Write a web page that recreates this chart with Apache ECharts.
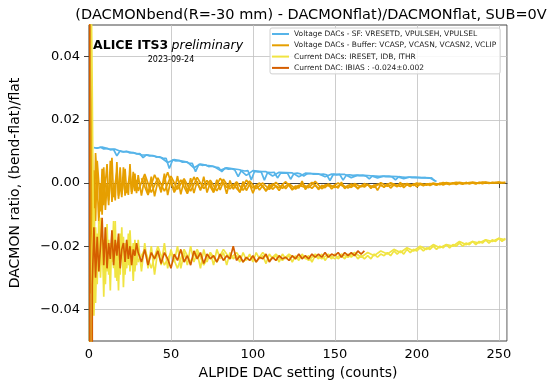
<!DOCTYPE html>
<html>
<head>
<meta charset="utf-8">
<script src="https://cdn.jsdelivr.net/npm/echarts@6/dist/echarts.min.js"></script>
<style>
  html, body { margin: 0; padding: 0; background: #fff; }
  #chart { width: 548px; height: 386px; }
</style>
</head>
<body>
<div id="chart"></div>
<script>
// DAC settings (x values)
function seq(a, b, step) {
  const r = [];
  for (let x = a; x <= b; x += step) r.push(x);
  return r;
}
const dacBlue1 = seq(3, 211, 2);
const dacBlue2 = seq(4, 212, 4);
const dacFine = seq(0, 29, 1).concat(seq(30, 254, 2));
const dacCoarse = seq(1, 29, 1).concat(seq(30, 254, 4));
const dacBuf3 = seq(32, 252, 4);
const dacIbias = seq(0, 29, 1).concat(seq(30, 168, 2));

// ratio values, in units of 1e-3
const blueSF1 = [
  11.2, 11.0, 11.3, 10.8, 10.9, 10.5, 10.6, 8.6, 10.2, 9.8,
  10.0, 9.5, 9.6, 9.2, 9.3, 8.0, 8.9, 8.6, 8.7, 8.2,
  8.3, 7.9, 7.8, 4.6, 7.3, 7.0, 7.1, 6.6, 6.7, 6.3,
  6.2, 3.6, 5.9, 5.6, 5.7, 5.2, 5.3, 5.0, 4.9, 3.6,
  4.7, 4.4, 4.5, 4.1, 2.0, 4.0, 3.8, 3.9, 1.0, 3.7,
  3.5, 3.6, 0.9, 3.4, 3.3, 3.4, 1.6, 3.2, 3.1, 3.2,
  1.2, 3.0, 3.1, 2.9, 2.2, 2.9, 3.0, 2.8, 2.9, 2.7,
  2.8, 2.6, 0.8, 2.7, 2.6, 2.7, 0.9, 2.5, 2.6, 2.4,
  2.5, 2.3, 2.4, 2.2, 1.3, 2.3, 2.2, 2.1, 2.2, 2.0,
  2.1, 1.9, 1.0, 2.0, 1.9, 1.8, 1.9, 1.7, 1.8, 1.7,
  1.6, 1.7, 1.5, 1.6, 0.6
];
const blueSF2 = [
  11.0, 11.4, 10.8, 10.7, 9.9, 9.9, 9.5, 8.9, 8.8, 8.5,
  8.0, 6.5, 7.4, 7.0, 6.6, 4.8, 6.0, 5.6, 5.3, 4.0,
  4.8, 4.5, 4.2, 2.4, 3.9, 3.7, 3.6, 2.2, 3.4, 3.3,
  3.2, 2.0, 3.1, 3.0, 2.9, 2.0, 2.8, 2.7, 2.7, 1.7,
  2.5, 2.4, 2.3, 1.6, 2.2, 2.1, 2.0, 1.4, 1.9, 1.8,
  1.7, 1.6, 0.5
];
const orangeBuf1 = [
  120, -35, 9, -22, 9.5, 0, -13, 0, -10, 5,
  -8.5, 0, -7, 7, -6, 0, -5.5, 6.6, -5, 0,
  -4.5, 5, -4, 0, -3.8, 6, -3.5, -1, 3, -3.2,
  2.5, -4.0, 1.8, -3.5, 2.0, -4.2, 0.5, -3.0, 3.0, -3.8,
  1.2, -2.5, 2.2, -3.6, 0.8, -2.8, 1.5, -3.2, 0.6, -2.4,
  2.0, -3.0, 0.2, -2.6, 1.0, -2.2, 0.4, -3.4, 0.8, -2.0,
  -0.2, -3.0, 0.5, -2.4, -0.4, -3.2, -0.6, -2.2, -0.8, -2.6,
  -0.4, -2.0, -1.0, -2.4, -0.6, -1.8, -0.5, -2.2, -0.9, -1.6,
  0.6, -2.0, -0.8, -1.7, -0.6, -2.1, -0.7, -1.5, -0.4, -1.9,
  -0.9, -1.6, 0.3, -1.8, -0.7, -1.4, -0.5, -1.9, -0.8, -1.3,
  -0.4, -1.7, -0.6, -2.3, -0.5, -1.4, -0.3, -1.6, -0.6, -1.2,
  0.2, -1.5, -0.5, -1.1, -0.3, -1.2, -0.4, -0.9, -0.2, -0.8,
  -0.3, -0.7, -0.1, -0.6, -0.2, -0.5, 0.1, -0.5, -0.1, -0.4,
  0.2, -0.3, 0.0, -0.3, 0.2, -0.2, 0.1, -0.1, 0.2, 0.0,
  0.3, 0.0, 0.2
];
const orangeBuf2 = [
  50, -28, 4, -12, 7, 0, -9, 4.5, -7, 0,
  6, -5.5, 0, 8, -4.5, 0, 3.5, -4, 5, -3.6,
  0, 4.5, -3.2, 0, 2.8, -2.8, 3.5, -2.6, 1.0,
  -2.5, 2.8, -3.0, 1.6, -2.6, 2.2, -2.0, 1.4, -2.6, 1.8,
  -1.8, 0.9, -2.5, 1.2, -1.9, 0.4, -2.3, 0.6, -1.8, 0.0,
  -2.0, 0.2, -1.7, -0.2, -1.9, -0.4, -1.5, 0.5, -1.8, -0.3,
  -1.4, -0.5, -1.6, -0.2, -1.2, -0.5, -1.4, 0.1, -1.0, -0.4,
  -1.1, -0.2, -0.8, -0.1, -0.7, 0.0, -0.5, 0.1, -0.3, 0.2,
  -0.2, 0.3, -0.1, 0.3, 0.0, 0.2, 0.1
];
const orangeBuf3 = [
  1.5, -3.8, 2.6, -2.2, 3.4, -3.0, 1.0, -3.4, 1.9, -2.0,
  0.8, -3.0, 1.5, -1.4, -0.5, -2.8, 0.9, -1.6, 0.0, -2.4,
  -0.3, -1.5, 0.4, -2.0, -0.7, -1.4, 0.2, -1.7, -0.6, -1.2,
  0.0, -1.4, -0.3, -1.6, -0.2, -1.1, -0.4, -1.2, 0.1, -0.8,
  -0.3, -0.9, 0.0, -0.6, -0.2, -0.5, 0.1, -0.3, 0.2, -0.2,
  0.1, -0.1, 0.3, 0.0, 0.2, 0.0
];
const yellowCur1 = [
  -120, 80, 28, -42, -14, -32, -12, -30, -16, -36,
  -14, -28, -18, -34, -15, -27, -12, -31, -17, -29,
  -14, -33, -19, -27, -16, -28, -20, -31, -18, -26,
  -18, -28, -19, -27, -20, -29, -21, -26, -19, -27,
  -21, -25, -20, -27, -22, -26, -20, -25, -22, -27,
  -21, -25, -22, -26, -21, -24, -22, -26, -22, -24,
  -23, -25, -22, -24.5, -22.5, -25, -22, -24, -23, -25.5,
  -22.5, -24, -23, -25, -22.5, -24, -23, -25, -23, -24.5,
  -22.5, -24, -23, -25, -23, -24, -22.5, -24.5, -23, -24,
  -22.5, -24, -23, -24, -22.5, -23.5, -22.5, -24, -23, -24,
  -23, -24, -22.5, -23.5, -22.5, -23, -22, -23, -21.5, -22.5,
  -21.5, -22.5, -21, -22, -21, -21.5, -20.5, -21.5, -20.5, -21,
  -20, -21, -20, -20.5, -19.5, -20.5, -19.5, -20, -19, -20,
  -19, -19.5, -18.5, -19.5, -18.5, -19, -18, -19, -18, -18.5,
  -17.5, -18.5, -17.5
];
const yellowCur2 = [
  -60, -20, -8, -38, -16, -28, -11, -26, -18, -32,
  -13, -29, -19, -25, -12, -30, -19, -34, -16, -24,
  -17, -29, -18, -26, -15, -25, -19, -28, -20,
  -25, -21, -27, -20, -26, -22, -27, -21, -25, -21,
  -26, -22, -25, -21, -24, -22, -25, -23, -25, -22,
  -24.5, -22.5, -24.5, -22.5, -24, -23, -24.5, -22.5, -24, -22.5,
  -24, -22.5, -23.5, -22, -23.5, -22, -23, -21.5, -22.5, -21,
  -22, -20.5, -21.5, -20, -21, -19.5, -20.5, -19.5, -20, -18.5,
  -19.5, -18.5, -19, -18, -18.5, -17.5, -18
];
const redIbias = [
  1000, -1000, -32, -14, -30, -17, -28, -20, -11, -26,
  -14, -27, -19, -24, -15, -26, -18, -23, -16, -27,
  -21, -19, -25, -18, -24, -20, -26, -21, -23, -19,
  -22, -25, -21, -26, -22, -24, -21.5, -25.5, -22, -24,
  -27, -22.5, -24.5, -21, -25, -23, -26, -21.5, -24, -22,
  -25.5, -22.5, -24, -23, -25, -22.5, -24.5, -23, -24, -20,
  -24.5, -23, -25, -23.5, -24.5, -23, -25, -23.5, -24, -22.5,
  -25, -23.5, -24.5, -23, -24, -23.5, -24.5, -23, -24, -22.5,
  -24, -23, -24, -22.5, -23.5, -22.5, -23.5, -22, -23.5, -22.5,
  -23, -22, -23.5, -22, -23, -22, -23, -21.5, -22.5, -21.5
];

const yTicks = [-0.04, -0.02, 0, 0.02, 0.04];

const nameSF = 'Voltage DACs - SF: VRESETD, VPULSEH, VPULSEL';
const nameBuf = 'Voltage DACs - Buffer: VCASP, VCASN, VCASN2, VCLIP';
const nameCur = 'Current DACs: IRESET, IDB, ITHR';
const nameIbias = 'Current DAC: IBIAS : -0.024\u00b10.002';

function pairs(xs, ys) {
  const n = Math.min(xs.length, ys.length);
  const out = [];
  for (let i = 0; i < n; i++) out.push([xs[i], ys[i] / 1000]);
  return out;
}

function line(name, color, xs, ys) {
  return {
    name: name,
    type: 'line',
    data: pairs(xs, ys),
    showSymbol: false,
    symbol: 'none',
    color: color,
    lineStyle: { color: color, width: 1.7 },
    emphasis: { disabled: true },
    clip: true
  };
}

const font = 'DejaVu Sans';
const chart = echarts.init(document.getElementById('chart'));

chart.setOption({
  animation: false,
  backgroundColor: '#fff',
  textStyle: { fontFamily: font },
  title: {
    text: '(DACMONbend(R=-30 mm) - DACMONflat)/DACMONflat, SUB=0V',
    left: 306,
    textAlign: 'center',
    top: 3,
    textStyle: { fontFamily: font, fontSize: 14.5, fontWeight: 'normal', color: '#000' }
  },
  grid: {
    left: 88, right: 41, top: 25, bottom: 45,
    show: true, borderColor: '#444', borderWidth: 1
  },
  legend: {
    orient: 'vertical',
    left: 270,
    top: 28,
    padding: [1, 4, 1, 2],
    itemGap: 1.3,
    itemWidth: 17,
    itemHeight: 2,
    icon: 'rect',
    backgroundColor: 'rgba(255,255,255,0.85)',
    borderColor: '#d0d0d0',
    borderWidth: 1,
    borderRadius: 2,
    textStyle: { fontFamily: font, fontSize: 7.5, lineHeight: 10, color: '#222' },
    data: [nameSF, nameBuf, nameCur, nameIbias]
  },
  xAxis: {
    type: 'value',
    min: 0,
    max: 255,
    interval: 50,
    name: 'ALPIDE DAC setting (counts)',
    nameLocation: 'middle',
    nameGap: 24,
    nameTextStyle: { fontFamily: font, fontSize: 14, color: '#000' },
    axisLine: { show: true, lineStyle: { color: '#444' } },
    axisTick: { show: true, length: 5, lineStyle: { color: '#444' } },
    axisLabel: { fontFamily: font, fontSize: 13, color: '#000', margin: 7 },
    splitLine: { show: true, lineStyle: { color: '#c0c0c0', width: 0.8 } }
  },
  yAxis: {
    type: 'value',
    min: -0.05,
    max: 0.05,
    name: 'DACMON ratio, (bend-flat)/flat',
    nameLocation: 'middle',
    nameGap: 67,
    nameTextStyle: { fontFamily: font, fontSize: 14, color: '#000' },
    axisLine: { show: true, lineStyle: { color: '#444' } },
    axisTick: { show: true, length: 5, customValues: yTicks, lineStyle: { color: '#444' } },
    axisLabel: {
      fontFamily: font, fontSize: 13, color: '#000', margin: 9,
      customValues: yTicks,
      formatter: function (v) {
        return (v < -1e-9 ? '\u2212' : '') + Math.abs(v).toFixed(2);
      }
    },
    splitLine: { show: true, lineStyle: { color: '#c0c0c0', width: 0.8 } }
  },
  graphic: [
    {
      type: 'text',
      x: 93,
      y: 46,
      style: {
        text: '{b|ALICE ITS3} {i|preliminary}',
        verticalAlign: 'middle',
        align: 'left',
        rich: {
          b: { fontFamily: font, fontSize: 12.5, fontWeight: 'bold', fill: '#000' },
          i: { fontFamily: font, fontSize: 12.5, fontStyle: 'italic', fill: '#000' }
        }
      },
      z: 100
    },
    {
      type: 'text',
      x: 171,
      y: 60,
      style: {
        text: '2023-09-24',
        align: 'center',
        verticalAlign: 'middle',
        fontFamily: font,
        fontSize: 8,
        fill: '#000'
      },
      z: 100
    }
  ],
  series: [
    line(nameSF, '#56B4E9', dacBlue1, blueSF1),
    line(nameSF, '#56B4E9', dacBlue2, blueSF2),
    line(nameBuf, '#E69F00', dacFine, orangeBuf1),
    line(nameBuf, '#E69F00', dacCoarse, orangeBuf2),
    line(nameBuf, '#E69F00', dacBuf3, orangeBuf3),
    line(nameCur, '#F0E442', dacFine, yellowCur1),
    line(nameCur, '#F0E442', dacCoarse, yellowCur2),
    line(nameIbias, '#D55E00', dacIbias, redIbias)
  ]
});
</script>
</body>
</html>
